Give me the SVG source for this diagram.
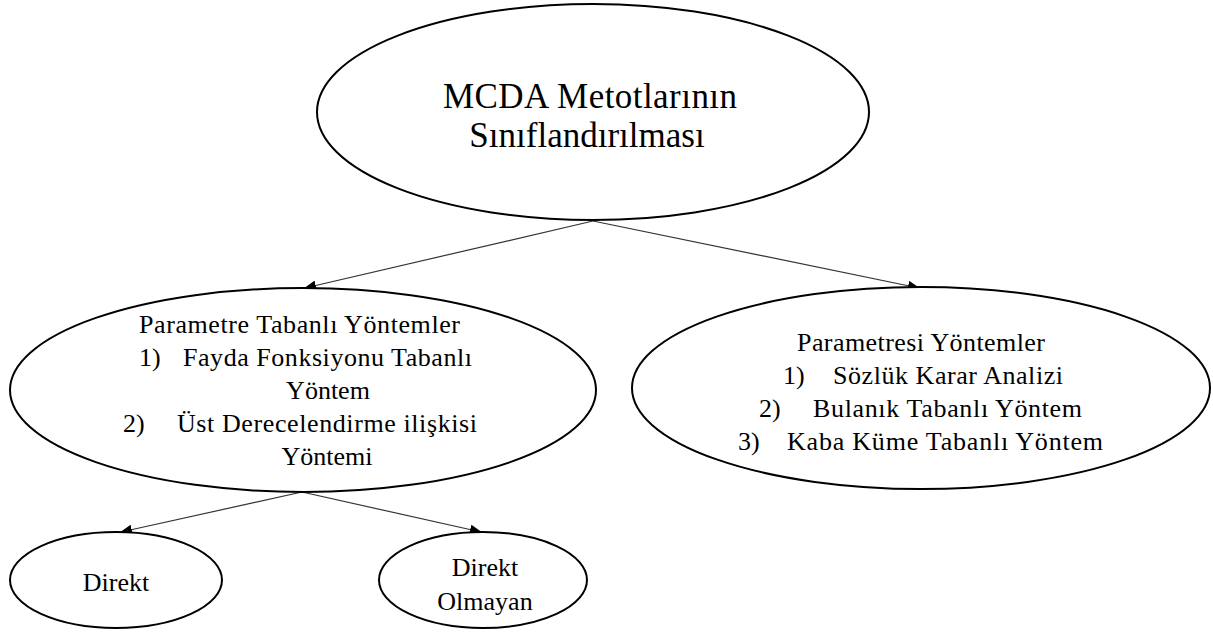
<svg xmlns="http://www.w3.org/2000/svg" width="1213" height="633" viewBox="0 0 1213 633">
  <style>
    .node ellipse { fill: #ffffff; stroke: #000000; stroke-width: 2; }
    .lbl { font-family: "Liberation Serif", "Times New Roman", serif; fill: #000000; }
    .big { font-size: 35px; }
    .mid { font-size: 26px; }
    .conn line { stroke: #333333; stroke-width: 1.2; }
  </style>
  <defs>
    <marker id="arrow" markerWidth="12" markerHeight="10" refX="11" refY="5" orient="auto" markerUnits="userSpaceOnUse">
      <path d="M0,0 L12,5 L0,10 Z" fill="#000000"/>
    </marker>
  </defs>

  <rect width="1213" height="633" fill="#ffffff"/>

  <!-- connectors -->
  <g id="connectors" class="conn">
    <line x1="593" y1="221" x2="305" y2="288" marker-end="url(#arrow)"/>
    <line x1="593" y1="221" x2="919" y2="288" marker-end="url(#arrow)"/>
    <line x1="302" y1="492" x2="121" y2="532" marker-end="url(#arrow)"/>
    <line x1="302" y1="492" x2="481" y2="532" marker-end="url(#arrow)"/>
  </g>

  <!-- root -->
  <g id="root" class="node">
    <ellipse cx="593" cy="112" rx="276" ry="108"/>
    <text class="lbl big" x="443" y="108" textLength="294" lengthAdjust="spacing">MCDA Metotlarının</text>
    <text class="lbl big" x="587" y="147" text-anchor="middle">Sınıflandırılması</text>
  </g>

  <!-- parameter based methods -->
  <g id="parametre" class="node">
    <ellipse cx="303" cy="390" rx="293" ry="102"/>
    <text class="lbl mid" x="139" y="333" textLength="321" lengthAdjust="spacing">Parametre  Tabanlı Yöntemler</text>
    <text class="lbl mid" x="139" y="366">1)</text>
    <text class="lbl mid" x="183" y="366" textLength="289" lengthAdjust="spacing">Fayda Fonksiyonu Tabanlı</text>
    <text class="lbl mid" x="328" y="399" text-anchor="middle">Yöntem</text>
    <text class="lbl mid" x="123" y="432">2)</text>
    <text class="lbl mid" x="177" y="432" textLength="300" lengthAdjust="spacing">Üst Derecelendirme ilişkisi</text>
    <text class="lbl mid" x="327" y="465" text-anchor="middle">Yöntemi</text>
  </g>

  <!-- non-parametric methods -->
  <g id="parametresi" class="node">
    <ellipse cx="921" cy="388" rx="289" ry="101"/>
    <text class="lbl mid" x="797" y="351" textLength="248" lengthAdjust="spacing">Parametresi  Yöntemler</text>
    <text class="lbl mid" x="783" y="384">1)</text>
    <text class="lbl mid" x="833" y="384" textLength="230" lengthAdjust="spacing">Sözlük Karar Analizi</text>
    <text class="lbl mid" x="759" y="417">2)</text>
    <text class="lbl mid" x="813" y="417" textLength="269" lengthAdjust="spacing">Bulanık Tabanlı Yöntem</text>
    <text class="lbl mid" x="738" y="450">3)</text>
    <text class="lbl mid" x="787" y="450" textLength="316" lengthAdjust="spacing">Kaba Küme Tabanlı Yöntem</text>
  </g>

  <!-- direct -->
  <g id="direkt" class="node">
    <ellipse cx="116" cy="580" rx="106" ry="48"/>
    <text class="lbl mid" x="116" y="591" text-anchor="middle">Direkt</text>
  </g>

  <!-- indirect -->
  <g id="direkt-olmayan" class="node">
    <ellipse cx="483" cy="580" rx="104" ry="48"/>
    <text class="lbl mid" x="485" y="576" text-anchor="middle">Direkt</text>
    <text class="lbl mid" x="485" y="610" text-anchor="middle">Olmayan</text>
  </g>
</svg>
